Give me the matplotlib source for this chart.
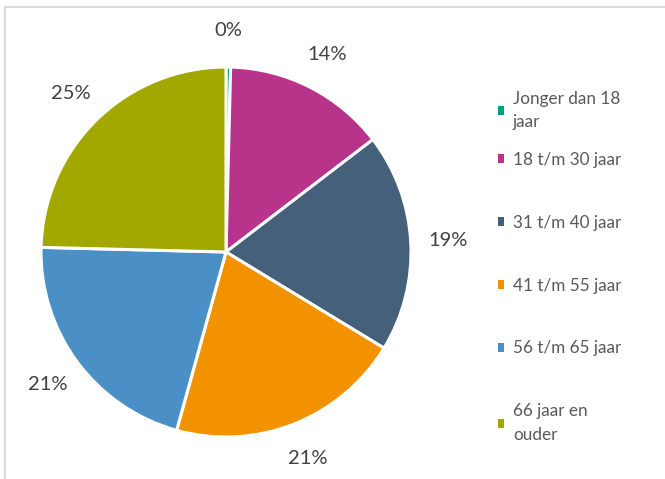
import matplotlib
matplotlib.use("Agg")
import matplotlib.pyplot as plt
from matplotlib.patches import Rectangle
from matplotlib.lines import Line2D

categories = ["Jonger dan 18\njaar", "18 t/m 30 jaar", "31 t/m 40 jaar",
              "41 t/m 55 jaar", "56 t/m 65 jaar", "66 jaar en\nouder"]
values = [0.4, 14.2, 19.1, 20.6, 21.1, 24.6]
pct_labels = ["0%", "14%", "19%", "21%", "21%", "25%"]
colors = ["#00A07A", "#B8338A", "#44607A", "#F39200", "#4A90C6", "#A3A800"]

plt.rcParams['font.family'] = ['Lato', 'DejaVu Sans']

W, H = 665, 479
fig = plt.figure(figsize=(W / 100, H / 100), dpi=100)
ax = fig.add_axes([0, 0, 1, 1])
ax.set_xlim(0, W)
ax.set_ylim(0, H)
ax.axis("off")

wedges, texts = ax.pie(values, labels=pct_labels, colors=colors,
                       startangle=90, counterclock=False,
                       center=(226, H - 252), radius=185,
                       labeldistance=1.2,
                       wedgeprops=dict(edgecolor="white", linewidth=2.2),
                       textprops=dict(fontsize=14.5, color="#404040"))
for t in texts:
    t.set_ha("center")
    t.set_va("center")
ax.set_xlim(0, W)
ax.set_ylim(0, H)
ax.set_aspect("equal")

# chart area frame
fig.add_artist(Line2D([5.5 / W, 1.0], [1 - 6.5 / H, 1 - 6.5 / H],
                      transform=fig.transFigure, color="#D9D9D9", lw=1.5))
fig.add_artist(Line2D([5.5 / W, 5.5 / W], [0, 1 - 6.5 / H],
                      transform=fig.transFigure, color="#D9D9D9", lw=1.5))

handles = [Rectangle((0, 0), 1, 1, facecolor=c, edgecolor="none") for c in colors]
leg_kw = dict(loc="upper left", frameon=False, fontsize=12.3, labelcolor="#595959",
              handlelength=0.4, handleheight=0.4, handletextpad=0.5,
              labelspacing=2.75, borderpad=0)
leg1 = fig.legend(handles[:1], categories[:1],
                  bbox_to_anchor=(489 / W, 1 - 82 / H), **leg_kw)
leg2 = fig.legend(handles[1:], categories[1:],
                  bbox_to_anchor=(489 / W, 1 - 143 / H), **leg_kw)
for lg in (leg1, leg2):
    for t in lg.get_texts():
        t.set_linespacing(1.55)

fig.savefig("out.png", dpi=100)
